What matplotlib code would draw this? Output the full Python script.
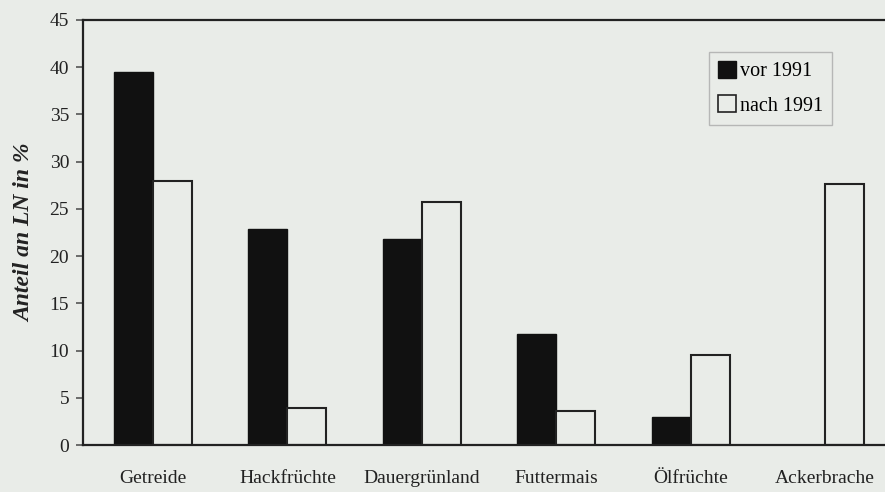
import matplotlib
matplotlib.use("Agg")
import matplotlib.pyplot as plt
import numpy as np
from matplotlib.patches import Patch

categories = ["Getreide", "Hackfrüchte", "Dauergrünland", "Futtermais", "Ölfrüchte", "Ackerbrache"]
vor_1991 = [39.5, 22.9, 21.8, 11.8, 3.0, 0.0]
nach_1991 = [28.0, 3.9, 25.7, 3.6, 9.5, 27.6]
yticks = [0, 5, 10, 15, 20, 25, 30, 35, 40, 45]

bg = "#e9ece8"
plt.rcParams["font.family"] = ["Liberation Serif", "DejaVu Serif"]

W, H = 885, 492
fig = plt.figure(figsize=(W / 100, H / 100), dpi=100, facecolor=bg)
left, right, top, bottom = 83, 895, 20, 445
ax = fig.add_axes([left / W, 1 - bottom / H, (right - left) / W, (bottom - top) / H])
ax.set_facecolor(bg)

x = np.arange(len(categories))
w = 0.29
ax.bar(x - w / 2, vor_1991, width=w, color="#111111", edgecolor="#111111", linewidth=1.0, label="vor 1991")
ax.bar(x + w / 2, nach_1991, width=w, color=bg, edgecolor="#222222", linewidth=1.5, label="nach 1991")

ax.set_xlim(-0.52, len(categories) - 0.48)
ax.set_ylim(0, 45)
ax.set_yticks(yticks)
ax.set_yticklabels([str(t) for t in yticks], fontsize=14, color="#222222")
ax.set_xticks(x)
ax.set_xticklabels(categories, fontsize=14, color="#222222")
ax.tick_params(axis="x", length=0, pad=18)
ax.tick_params(axis="y", direction="out", length=5, width=1.2, pad=5, color="#555555")

for s in ["left", "top", "bottom", "right"]:
    ax.spines[s].set_linewidth(1.6)
    ax.spines[s].set_color("#222222")

ax.set_ylabel("Anteil an LN in %", fontsize=17, fontweight="bold", fontstyle="italic", color="#222222")
ax.yaxis.set_label_coords((35 - left) / (right - left), 0.5)

handles = [Patch(facecolor="#111111", edgecolor="#111111", label="vor 1991"),
           Patch(facecolor=bg, edgecolor="#222222", linewidth=1.2, label="nach 1991")]
leg = ax.legend(handles=handles, loc="upper left",
                bbox_to_anchor=((709 - left) / (right - left), 1 - (52 - top) / (bottom - top)),
                borderaxespad=0, fontsize=14.5, frameon=True, fancybox=False,
                handlelength=0.9, handleheight=0.9, handletextpad=0.2, borderpad=0.45,
                labelspacing=0.7, facecolor=bg, edgecolor="#aaaaaa")
leg.get_frame().set_linewidth(1.0)

fig.savefig("out.png", dpi=100, facecolor=bg)
